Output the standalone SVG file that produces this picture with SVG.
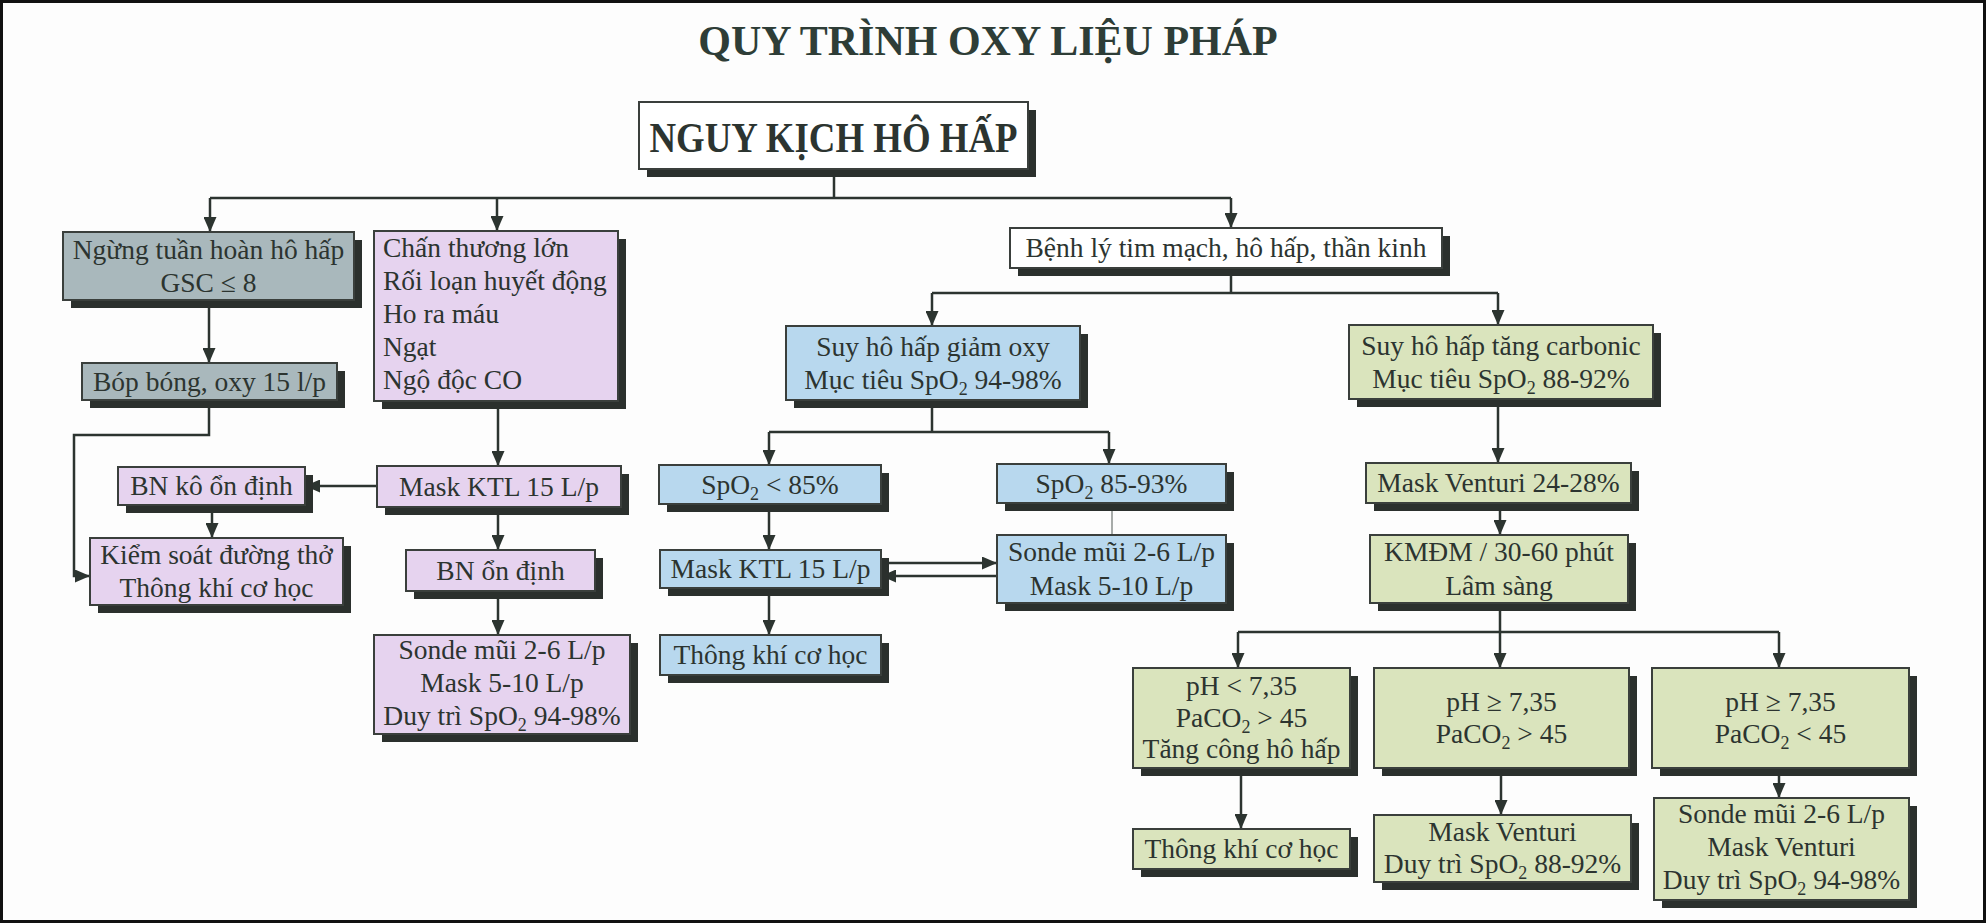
<svg xmlns="http://www.w3.org/2000/svg" width="1986" height="923" viewBox="0 0 1986 923">
<style>
.t{font-family:"Liberation Serif","Times New Roman",serif;font-size:27.5px;fill:#2c3430;text-anchor:middle}
.l{text-anchor:start}
.sub{font-size:18px}
.title{font-family:"Liberation Serif","Times New Roman",serif;font-size:42px;font-weight:bold;fill:#2e3d37;text-anchor:middle}
.big{font-family:"Liberation Serif","Times New Roman",serif;font-size:43px;font-weight:bold;fill:#2c3430;text-anchor:middle}
.sh{fill:#2b302d}
.bx{stroke:#3a3f3c;stroke-width:2}
.gray{fill:#a9b8bc}
.pink{fill:#e6d3ef}
.blue{fill:#b8d8ee}
.green{fill:#dae4bd}
.white{fill:#ffffff}
.c{fill:none;stroke:#2c3430;stroke-width:2.5}
.ca{fill:none;stroke:#2c3430;stroke-width:2.5;marker-end:url(#ah)}
.thin{fill:none;stroke:#8a8f8c;stroke-width:1.5}
</style>
<defs>
<marker id="ah" markerWidth="15" markerHeight="13" refX="15" refY="6.5" orient="auto" markerUnits="userSpaceOnUse">
<path d="M0,0 L15,6.5 L0,13 z" fill="#2c3430"/>
</marker>
</defs>
<rect x="1.5" y="1.5" width="1983" height="920" fill="#fdfdfd" stroke="#111" stroke-width="3"/>
<text class="title" x="988" y="55">QUY TRÌNH OXY LIỆU PHÁP</text>

<g id="connectors">
<path class="c" d="M834,169 V198 M210,198 H1231"/>
<path class="ca" d="M210,198 V232"/>
<path class="ca" d="M497,198 V231"/>
<path class="ca" d="M1231,198 V228"/>
<path class="ca" d="M209,300 V363"/>
<path class="ca" d="M209,400 V435 H74 V576 H90"/>
<path class="ca" d="M498,401 V466"/>
<path class="ca" d="M377,486 H305"/>
<path class="ca" d="M212,505 V538"/>
<path class="ca" d="M498,507 V550"/>
<path class="ca" d="M498,591 V635"/>
<path class="c" d="M1231,268 V293 M932,293 H1498"/>
<path class="ca" d="M932,293 V326"/>
<path class="ca" d="M1498,293 V325"/>
<path class="c" d="M932,400 V432 M769,432 H1109"/>
<path class="ca" d="M769,432 V465"/>
<path class="ca" d="M1109,432 V464"/>
<path class="ca" d="M769,504 V550"/>
<path class="thin" d="M1112,503 V535"/>
<path class="ca" d="M881,563 H997"/>
<path class="ca" d="M997,576 H881"/>
<path class="ca" d="M769,588 V635"/>
<path class="ca" d="M1498,399 V463"/>
<path class="ca" d="M1500,503 V535"/>
<path class="c" d="M1500,603 V632 M1238,632 H1779"/>
<path class="ca" d="M1238,632 V668"/>
<path class="ca" d="M1500,632 V668"/>
<path class="ca" d="M1779,632 V668"/>
<path class="ca" d="M1241,768 V829"/>
<path class="ca" d="M1501,768 V815"/>
<path class="ca" d="M1779,768 V798"/>
</g>

<g id="n-nguy">
<rect class="sh" x="647" y="110" width="389" height="67"/>
<rect class="bx white" x="639" y="102" width="389" height="67"/>
<text class="big" x="833.5" y="152" textLength="368" lengthAdjust="spacingAndGlyphs">NGUY KỊCH HÔ HẤP</text>
</g>

<g id="n-ngung">
<rect class="sh" x="71" y="240" width="291" height="68"/>
<rect class="bx gray" x="63" y="232" width="291" height="68"/>
<text class="t" x="208.5" y="259">Ngừng tuần hoàn hô hấp</text>
<text class="t" x="208.5" y="292">GSC ≤ 8</text>
</g>

<g id="n-bop">
<rect class="sh" x="90" y="371" width="255" height="37"/>
<rect class="bx gray" x="82" y="363" width="255" height="37"/>
<text class="t" x="209.5" y="391">Bóp bóng, oxy 15 l/p</text>
</g>

<g id="n-chan">
<rect class="sh" x="382" y="239" width="244" height="170"/>
<rect class="bx pink" x="374" y="231" width="244" height="170"/>
<text class="t l" x="383" y="257">Chấn thương lớn</text>
<text class="t l" x="383" y="290">Rối loạn huyết động</text>
<text class="t l" x="383" y="323">Ho ra máu</text>
<text class="t l" x="383" y="356">Ngạt</text>
<text class="t l" x="383" y="389">Ngộ độc CO</text>
</g>

<g id="n-maskktl1">
<rect class="sh" x="385" y="474" width="244" height="41"/>
<rect class="bx pink" x="377" y="466" width="244" height="41"/>
<text class="t" x="499" y="496">Mask KTL 15 L/p</text>
</g>

<g id="n-bnko">
<rect class="sh" x="126" y="475" width="187" height="38"/>
<rect class="bx pink" x="118" y="467" width="187" height="38"/>
<text class="t" x="211.5" y="495">BN kô ổn định</text>
</g>

<g id="n-kiemsoat">
<rect class="sh" x="98" y="546" width="253" height="67"/>
<rect class="bx pink" x="90" y="538" width="253" height="67"/>
<text class="t" x="216.5" y="564">Kiểm soát đường thở</text>
<text class="t" x="216.5" y="597">Thông khí cơ học</text>
</g>

<g id="n-bnon">
<rect class="sh" x="414" y="558" width="189" height="41"/>
<rect class="bx pink" x="406" y="550" width="189" height="41"/>
<text class="t" x="500.5" y="580">BN ổn định</text>
</g>

<g id="n-sonde1">
<rect class="sh" x="382" y="643" width="256" height="99"/>
<rect class="bx pink" x="374" y="635" width="256" height="99"/>
<text class="t" x="502" y="659">Sonde mũi 2-6 L/p</text>
<text class="t" x="502" y="692">Mask 5-10 L/p</text>
<text class="t" x="502" y="725">Duy trì SpO<tspan class="sub" dy="6">2</tspan><tspan dy="-6"> 94-98%</tspan></text>
</g>

<g id="n-benhly">
<rect class="sh" x="1018" y="236" width="432" height="40"/>
<rect class="bx white" x="1010" y="228" width="432" height="40"/>
<text class="t" x="1226" y="257">Bệnh lý tim mạch, hô hấp, thần kinh</text>
</g>

<g id="n-suygiam">
<rect class="sh" x="794" y="334" width="294" height="74"/>
<rect class="bx blue" x="786" y="326" width="294" height="74"/>
<text class="t" x="933" y="356">Suy hô hấp giảm oxy</text>
<text class="t" x="933" y="389">Mục tiêu SpO<tspan class="sub" dy="6">2</tspan><tspan dy="-6"> 94-98%</tspan></text>
</g>

<g id="n-spo85">
<rect class="sh" x="667" y="473" width="222" height="39"/>
<rect class="bx blue" x="659" y="465" width="222" height="39"/>
<text class="t" x="770" y="494">SpO<tspan class="sub" dy="6">2</tspan><tspan dy="-6"> &lt; 85%</tspan></text>
</g>

<g id="n-spo8593">
<rect class="sh" x="1005" y="472" width="229" height="39"/>
<rect class="bx blue" x="997" y="464" width="229" height="39"/>
<text class="t" x="1111.5" y="493">SpO<tspan class="sub" dy="6">2</tspan><tspan dy="-6"> 85-93%</tspan></text>
</g>

<g id="n-maskktl2">
<rect class="sh" x="668" y="558" width="221" height="38"/>
<rect class="bx blue" x="660" y="550" width="221" height="38"/>
<text class="t" x="770.5" y="578">Mask KTL 15 L/p</text>
</g>

<g id="n-sonde2">
<rect class="sh" x="1005" y="543" width="229" height="68"/>
<rect class="bx blue" x="997" y="535" width="229" height="68"/>
<text class="t" x="1111.5" y="561">Sonde mũi 2-6 L/p</text>
<text class="t" x="1111.5" y="595">Mask 5-10 L/p</text>
</g>

<g id="n-thongkhi1">
<rect class="sh" x="668" y="643" width="221" height="40"/>
<rect class="bx blue" x="660" y="635" width="221" height="40"/>
<text class="t" x="770.5" y="664">Thông khí cơ học</text>
</g>

<g id="n-suytang">
<rect class="sh" x="1357" y="333" width="304" height="74"/>
<rect class="bx green" x="1349" y="325" width="304" height="74"/>
<text class="t" x="1501" y="355">Suy hô hấp tăng carbonic</text>
<text class="t" x="1501" y="388">Mục tiêu SpO<tspan class="sub" dy="6">2</tspan><tspan dy="-6"> 88-92%</tspan></text>
</g>

<g id="n-venturi">
<rect class="sh" x="1374" y="471" width="265" height="40"/>
<rect class="bx green" x="1366" y="463" width="265" height="40"/>
<text class="t" x="1498.5" y="492">Mask Venturi 24-28%</text>
</g>

<g id="n-kmdm">
<rect class="sh" x="1378" y="543" width="258" height="68"/>
<rect class="bx green" x="1370" y="535" width="258" height="68"/>
<text class="t" x="1499" y="561">KMĐM / 30-60 phút</text>
<text class="t" x="1499" y="595">Lâm sàng</text>
</g>

<g id="n-ph1">
<rect class="sh" x="1141" y="676" width="217" height="100"/>
<rect class="bx green" x="1133" y="668" width="217" height="100"/>
<text class="t" x="1241.5" y="695">pH &lt; 7,35</text>
<text class="t" x="1241.5" y="727">PaCO<tspan class="sub" dy="6">2</tspan><tspan dy="-6"> &gt; 45</tspan></text>
<text class="t" x="1241.5" y="758">Tăng công hô hấp</text>
</g>

<g id="n-ph2">
<rect class="sh" x="1382" y="676" width="255" height="100"/>
<rect class="bx green" x="1374" y="668" width="255" height="100"/>
<text class="t" x="1501.5" y="711">pH ≥ 7,35</text>
<text class="t" x="1501.5" y="743">PaCO<tspan class="sub" dy="6">2</tspan><tspan dy="-6"> &gt; 45</tspan></text>
</g>

<g id="n-ph3">
<rect class="sh" x="1660" y="676" width="257" height="100"/>
<rect class="bx green" x="1652" y="668" width="257" height="100"/>
<text class="t" x="1780.5" y="711">pH ≥ 7,35</text>
<text class="t" x="1780.5" y="743">PaCO<tspan class="sub" dy="6">2</tspan><tspan dy="-6"> &lt; 45</tspan></text>
</g>

<g id="n-thongkhi2">
<rect class="sh" x="1141" y="837" width="217" height="40"/>
<rect class="bx green" x="1133" y="829" width="217" height="40"/>
<text class="t" x="1241.5" y="858">Thông khí cơ học</text>
</g>

<g id="n-venturi2">
<rect class="sh" x="1382" y="823" width="257" height="67"/>
<rect class="bx green" x="1374" y="815" width="257" height="67"/>
<text class="t" x="1502.5" y="841">Mask Venturi</text>
<text class="t" x="1502.5" y="873">Duy trì SpO<tspan class="sub" dy="6">2</tspan><tspan dy="-6"> 88-92%</tspan></text>
</g>

<g id="n-sonde3">
<rect class="sh" x="1662" y="806" width="255" height="102"/>
<rect class="bx green" x="1654" y="798" width="255" height="102"/>
<text class="t" x="1781.5" y="823">Sonde mũi 2-6 L/p</text>
<text class="t" x="1781.5" y="856">Mask Venturi</text>
<text class="t" x="1781.5" y="889">Duy trì SpO<tspan class="sub" dy="6">2</tspan><tspan dy="-6"> 94-98%</tspan></text>
</g>
</svg>
